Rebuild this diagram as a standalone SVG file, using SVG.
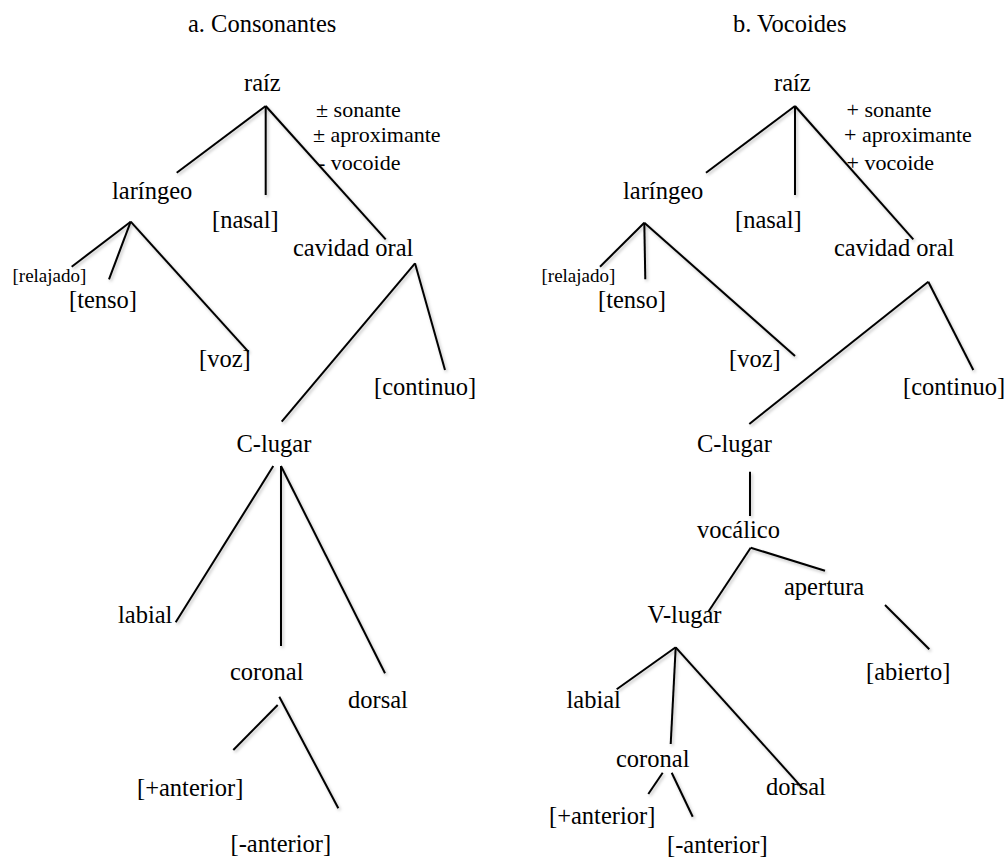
<svg xmlns="http://www.w3.org/2000/svg" width="1007" height="857" viewBox="0 0 1007 857">
<defs>
<filter id="sh" x="-20%" y="-20%" width="140%" height="140%">
<feDropShadow dx="1.5" dy="2" stdDeviation="1.8" flood-color="#000" flood-opacity="0.25"/>
</filter>
</defs>
<style>
text{font-family:"Liberation Serif","Times New Roman",serif;fill:#000;font-size:24.5px}
.f{font-size:22px}
.s{font-size:19px}
.c line{stroke:#000;stroke-width:2;stroke-linecap:butt}
</style>
<rect width="1007" height="857" fill="#fff"/>
<g class="c" filter="url(#sh)">
<line x1="265.7" y1="106" x2="176.7" y2="172.7"/>
<line x1="265.7" y1="106" x2="265.7" y2="195"/>
<line x1="265.7" y1="106" x2="385.7" y2="239.3"/>
<line x1="130.7" y1="221.7" x2="71.7" y2="266.7"/>
<line x1="130.7" y1="221.7" x2="109" y2="279.3"/>
<line x1="130.7" y1="221.7" x2="248.3" y2="351.7"/>
<line x1="415" y1="263.3" x2="281.7" y2="421.7"/>
<line x1="415" y1="263.3" x2="445" y2="370"/>
<line x1="273.3" y1="466" x2="175.7" y2="622.3"/>
<line x1="281" y1="466" x2="281" y2="646"/>
<line x1="281" y1="466" x2="385" y2="673.3"/>
<line x1="277.7" y1="705" x2="233.3" y2="750"/>
<line x1="279.3" y1="696.7" x2="338.3" y2="808.3"/>
<line x1="795" y1="106" x2="706" y2="172.7"/>
<line x1="795" y1="106" x2="795" y2="195"/>
<line x1="795" y1="106" x2="913.3" y2="239.3"/>
<line x1="644.3" y1="222.7" x2="600" y2="266.7"/>
<line x1="644.3" y1="222.7" x2="645.3" y2="279.3"/>
<line x1="644.3" y1="222.7" x2="795" y2="356"/>
<line x1="928.3" y1="281.7" x2="749.3" y2="424"/>
<line x1="928.3" y1="281.7" x2="973.3" y2="370"/>
<line x1="750" y1="471.7" x2="750" y2="516"/>
<line x1="750.7" y1="547.7" x2="825" y2="570.7"/>
<line x1="750.7" y1="547.7" x2="708.3" y2="611.7"/>
<line x1="885" y1="605" x2="929.3" y2="649.3"/>
<line x1="675.7" y1="647.3" x2="616.7" y2="689.3"/>
<line x1="675.7" y1="647.3" x2="670.7" y2="744"/>
<line x1="675.7" y1="647.3" x2="802.7" y2="788.3"/>
<line x1="662.7" y1="772.7" x2="648.3" y2="794"/>
<line x1="671.7" y1="772.7" x2="692.7" y2="816.7"/>
</g>
<g id="title-a"><text x="188" y="32">a. Consonantes</text></g>
<g id="title-b"><text x="733" y="32">b. Vocoides</text></g>
<g id="a-raiz"><text x="244" y="90.5">raíz</text></g>
<g id="a-rasgos"><text class="f" x="316" y="116.5">± sonante</text><text class="f" x="313" y="141.5">± aproximante</text><text class="f" x="318" y="170">- vocoide</text></g>
<g id="a-laringeo"><text x="112" y="199">laríngeo</text></g>
<g id="a-nasal"><text x="212" y="228">[nasal]</text></g>
<g id="a-cavidad"><text x="293" y="256">cavidad oral</text></g>
<g id="a-relajado"><text class="s" x="12.5" y="281.5">[relajado]</text></g>
<g id="a-tenso"><text x="69" y="308">[tenso]</text></g>
<g id="a-voz"><text x="199" y="367">[voz]</text></g>
<g id="a-continuo"><text x="374" y="395">[continuo]</text></g>
<g id="a-clugar"><text x="236.5" y="451.5">C-lugar</text></g>
<g id="a-labial"><text x="118" y="623">labial</text></g>
<g id="a-coronal"><text x="230" y="680">coronal</text></g>
<g id="a-dorsal"><text x="348" y="708">dorsal</text></g>
<g id="a-mas-ant"><text x="137" y="795.5">[+anterior]</text></g>
<g id="a-menos-ant"><text x="230.5" y="851.5">[-anterior]</text></g>
<g id="b-raiz"><text x="774" y="90.5">raíz</text></g>
<g id="b-rasgos"><text class="f" x="846.5" y="116.5">+ sonante</text><text class="f" x="844" y="141.5">+ aproximante</text><text class="f" x="846.5" y="170">+ vocoide</text></g>
<g id="b-laringeo"><text x="623" y="199">laríngeo</text></g>
<g id="b-nasal"><text x="735" y="228">[nasal]</text></g>
<g id="b-cavidad"><text x="834" y="256">cavidad oral</text></g>
<g id="b-relajado"><text class="s" x="541.5" y="281.5">[relajado]</text></g>
<g id="b-tenso"><text x="598" y="308">[tenso]</text></g>
<g id="b-voz"><text x="729" y="367">[voz]</text></g>
<g id="b-continuo"><text x="903" y="395">[continuo]</text></g>
<g id="b-clugar"><text x="697" y="451.5">C-lugar</text></g>
<g id="b-vocalico"><text x="697" y="537.5">vocálico</text></g>
<g id="b-apertura"><text x="784" y="595">apertura</text></g>
<g id="b-vlugar"><text x="647.5" y="623">V-lugar</text></g>
<g id="b-abierto"><text x="866" y="680">[abierto]</text></g>
<g id="b-labial"><text x="566.5" y="708">labial</text></g>
<g id="b-coronal"><text x="616" y="766.5">coronal</text></g>
<g id="b-dorsal"><text x="766" y="795">dorsal</text></g>
<g id="b-mas-ant"><text x="549" y="824">[+anterior]</text></g>
<g id="b-menos-ant"><text x="667" y="852.5">[-anterior]</text></g>
</svg>
